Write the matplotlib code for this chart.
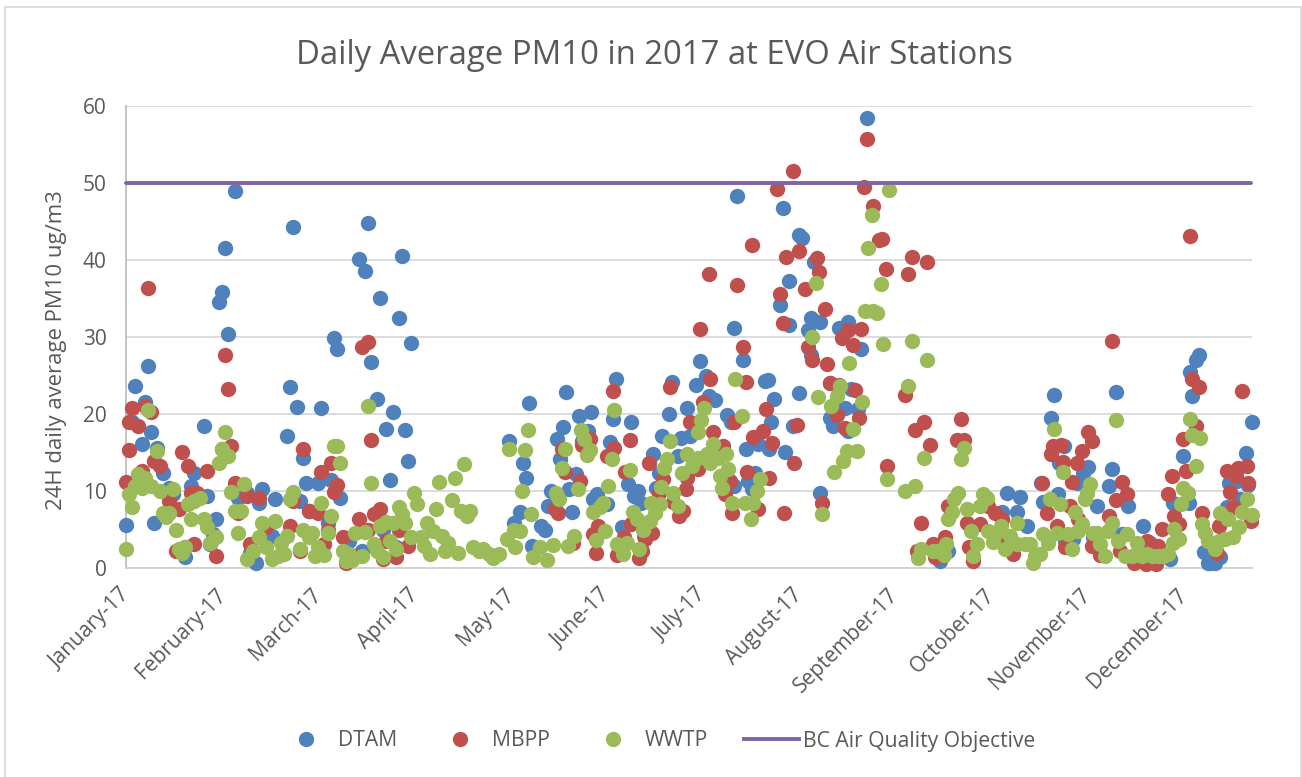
import matplotlib
matplotlib.use("Agg")
import matplotlib.pyplot as plt
from matplotlib.lines import Line2D
from matplotlib.patches import Rectangle
from matplotlib.transforms import ScaledTranslation

plt.rcParams['font.family'] = ['Open Sans', 'DejaVu Sans']

title = "Daily Average PM10 in 2017 at EVO Air Stations"
y_label = "24H daily average PM10 ug/m3"
tick_days = [0, 31, 62, 93, 124, 155, 186, 217, 248, 279, 310, 341]
tick_labels = ["January-17", "February-17", "March-17", "April-17", "May-17", "June-17",
               "July-17", "August-17", "September-17", "October-17", "November-17", "December-17"]
objective = 50

dtam = [(35,48.9),(32,41.6),(31,35.9),(30,34.5),(33,30.4),(7,26.2),(3,23.7),(6,21.5),(2,18.9),(8,17.6),(5,16.1),(10,15.6),(12,12.4),(25,18.5),
(53,23.5),(55,20.9),(63,20.8),(54,44.3),(52,17.2),(57,14.3),(58,11),(62,11),(66,11.4),(69,9.1),(67,29.9),(68,28.4),(75,40.1),(77,38.6),(78,44.8),
(82,35.1),(79,26.7),(81,21.9),(86,20.3),(84,18),(88,32.5),(89,40.5),(92,29.2),(90,17.9),(91,13.9),(85,11.4),(0,5.6),(9,5.9),(14,10.4),(21,10.7),
(22,12.4),(26,9.4),(15,9.6),(29,6.4),(28,4.4),(27,3.1),(19,1.4),(44,10.2),(43,8.5),(48,8.9),(36,9.1),(39,9.8),(56,8.7),(59,7.4),(65,5.9),(47,4.2),
(40,2),(42,0.7),(72,3.5),(76,2.2),(83,5),(87,2.7),
(123.6,16.5),(130,21.4),(128,13.7),(129,11.7),(127,7.3),(125,5.9),(131,2.9),(134,5.5),(135,5),(142,22.9),(141,18.3),(139,16.8),(140,14.2),(145,12.2),
(143,10.3),(137,10),(136,8.1),(144,7.3),(146,19.7),(150,20.2),(149,17.8),(147,16.5),(157,19.3),(158,24.5),(163,18.9),(156,16.3),(152,9.6),(150.5,8.9),
(155,8.3),(162,10.9),(165,10),(164,9.4),(166,8.5),(160,5.3),(167,4.2),(170,14.8),(173,17.1),(175,20),(181,20.8),(179,16.9),(182,17.1),(176,24.1),
(172,12.4),(171,10.4),(178,14.5),(185,26.9),(184,23.8),(187,24.9),(188,22.3),(190,21.8),(194,19.9),(195,18.9),(197,48.3),(199,27),(196,31.2),(200,15.5),
(196,10.7),(200.5,11.3),(202,10.2),(203,12.4),(206,24.3),(207,24.4),(209,22),(208,18.9),(204,16.1),(207.5,15.4),(212.6,15.1),(215,18.5),(217,22.7),
(212,46.8),(217,43.3),(218,42.8),(222,39.8),(214,37.3),(211,34.2),(214,31.5),(221,32.5),(224,32),(220,30.9),(221,27.7),(239,58.5),(230,31.2),(233,31.9),
(237,28.4),(227,24),(234,23.2),(232,20.8),(227,19.5),(228,18.4),(233,17.8),(224,9.8),(236,20.6),
(299.4,22.5),(298.4,19.5),(302.4,15.8),(300.8,13.7),(295.2,11.1),(300.5,9.6),(295.7,8.6),(319.2,22.8),(318,12.8),(317.2,10.7),(323.1,8.1),(313.3,8.1),
(284.3,9.7),(288.4,9.2),(287.3,7.3),(282.7,7.3),(290.5,5.4),(310.4,13.1),(308.8,12.4),(306.7,11.1),(328.2,5.5),(321.2,4.4),(330.3,3.2),(336.8,1.2),
(262.6,0.9),(265.3,2.2),(312,4),(305.6,3.8),(302.9,3.5),(346.2,27.7),(345.2,27),(343.2,25.5),(344,22.4),(363.1,18.9),(361.2,14.9),(341.1,14.6),(355.8,11),
(362,10.8),(358.3,11.3),(337.8,8.5),(343,8.5),(355,7.9),(359.4,8.9),(347.8,2.1),(349.7,0.7),(349.1,0.7),(351.3,0.7),(352.9,1.4)]

mbpp = [(7,36.3),(32,27.6),(33,23.3),(2,20.8),(6,21),(8,20.2),(1,18.9),(4,18.5),(1,15.3),(0,11.2),(5,12.6),(9,13.9),(11,13.2),(18,15.1),(20,13.2),(26,12.6),
(14,8.7),(17,7.7),(23,9.8),(21,9.8),(16,2.2),(19,2.7),(22,3.1),(29,1.6),(31,15.4),(34,15.8),(35,11.1),(36,7.2),(39,9.3),(43,9.1),(40,3.1),(45,5.3),(53,5.5),
(54,8.7),(56,2.2),(57,15.5),(59,7.4),(62,7.2),(63,12.5),(66,13.7),(68,10.8),(67,9.9),(65,5),(64,3.1),(75,6.4),(78,5),(70,4),(71,0.7),(74,1.6),(78,29.4),
(76,28.7),(79,16.6),(80,7),(82,7.6),(84,3.5),(88,5),(91,2.9),(87,1.4),(83,1.2),
(215,51.6),(210,49.2),(238,49.5),(239,55.7),(241,47),(243,42.6),(244,42.7),(245,38.8),(202,41.9),(188,38.2),(197,36.8),(185,31.1),(199,28.7),(217,41.2),
(213,40.4),(223,40.2),(223.4,38.4),(211,35.6),(219,36.2),(212,31.8),(225.5,33.6),(237,31.1),(233,30.9),(231,29.9),(234.4,29),(220,28.7),(221.4,27),(226,26.5),
(188.4,24.5),(200,24.1),(157,23),(175.5,23.5),(227,24),(230,23.8),(235,23.1),(229.2,19.9),(236.4,19.5),(232,18.2),(186,21.5),(182,19),(196,18.9),(206.4,20.7),
(205.6,17.8),(202.4,17),(216.5,18.6),(208.5,16.2),(189.4,17.7),(149.6,16.7),(162.6,16.6),(157.5,15.6),(155,14.5),(147,16),(140.5,15.5),(168.6,13.7),(192.7,15.8),
(215.5,13.6),(141.6,12.5),(161,12.5),(146.4,11.3),(200.4,12.5),(207.5,11.7),(184.6,12.8),(173.3,11.5),(181,11.7),(194.8,11.3),(180.5,10.2),(172,9.8),(193.2,9.6),
(176.5,8.6),(138.4,7.6),(139.4,7.2),(179.8,7.4),(178.5,6.7),(195.6,7.1),(212.3,7.1),(203.7,7.6),(224.4,8.4),(152.3,5.5),(150.7,4.4),(162.9,5.7),(169.8,4.5),
(167.4,3.8),(160.6,4),(144.3,3.3),(151.6,1.9),(158.3,1.7),(165.5,1.3),(166.5,2.2),
(253.4,40.4),(258.3,39.8),(252.4,38.2),(251.3,22.5),(257.4,18.9),(254.5,17.9),(259.4,16),(245.4,13.2),(256.3,5.9),(269.4,19.4),(270.3,16.6),(268.2,16.6),
(318.2,29.5),(343.2,43.1),(360.1,23),(265.3,8),(264.2,4),(260.4,3.1),(255,2.2),(261,1.4),(263.1,1.6),(271.4,5.9),(275.5,5.7),(280.3,7.2),(282.5,6.3),(273.3,0.9),
(272,2.7),(278.2,8),(286.2,1.8),(283,3.3),(295.4,11.1),(297.2,7.1),(299.1,15.8),(301.6,16),(298.4,14.8),(302.2,13.8),(305,11.2),(306.7,13.7),(308.3,15.2),
(311.5,16.5),(310.2,17.6),(304.5,8),(307.2,6.3),(300.2,5.5),(302.9,2.7),(321.2,11.2),(323,9.6),(319.2,8.8),(317.1,6.7),(311.5,2.8),(314.2,1.7),(320.6,2.2),
(334.1,5.1),(337.3,11.9),(336.2,9.6),(342,12.6),(341,16.8),(345.2,18.4),(344,24.6),(346.2,23.5),(338.2,6.8),(339.5,5.7),(347,7.2),(333,2.9),(329.2,3.5),(325,0.7),
(329,0.5),(332.3,0.5),(355,12.6),(361.5,13.2),(358.8,13),(358,12),(362,11),(356,9.9),(363,6.1),(352.4,5.5),(357.2,7.9),(351.8,2)]

wwtp = [(0,2.5),(7,20.5),(10,15.2),(4,12.2),(3,10.7),(1,9.6),(5,10.4),(8,10.7),(11,10),(15,10.3),(6,11.7),(2,7.9),(12,7.2),(14,7.2),(13,6.6),(16,5),(20,8.3),(22,8.7),
(24,9.1),(21,6.4),(25,6.3),(26,5.3),(29,4),(27,3.3),(17,2.5),(19,2.7),(18,2),(32,17.7),(31,15.5),(33,14.5),(30,13.6),(34,9.9),(38,10.9),(35,7.4),(37,7.4),(36,4.6),
(44,5.9),(48,6.1),(43,4),(41,2.2),(39,1.2),(45,2.7),(47,1.2),(49,1.6),(51,1.8),(50,3.3),(52,4.2),(53,8.9),(54,9.9),(57,5),(60,4.6),(59,4),(56,2.5),(61,1.6),(62,2.7),
(64,1.7),(65,4.5),(66,6.7),(63,8.4),(67,15.8),(68,15.8),(69,13.6),(70,2.2),(72,1.8),(71,0.9),(73,1),(76,1.6),(74,4.6),(77,4.7),(78,21),(79,11),(80,3.1),(81,2.2),(83,1.4),
(82,5.5),(84,6),(86,5.9),(85,3.5),(87,2.5),(88,7.9),(89,7),(90,5.9),(92,4),(95,4),(96,2.9),(98,1.8),(97,5.9),(99,4.8),(102,4.2),(104,3.3),(103,2.2),(107,2),(93,9.8),(94,8.3),
(100,7.6),(101,11.2),(105,8.8),(106,11.7),(109,13.5),(108,7.4),(111,7.4),(110,6.7),(112,2.7),(114,2.2),(115,2.5),(117,1.8),(118.5,1.3),(120.4,1.8),
(123.6,15.5),(129.8,17.9),(128.7,15.3),(127.8,10),(130.6,7),(125,5),(127,4.8),(122.8,3.8),(125.5,2.7),(131.4,1.4),(133.5,2.7),(135.7,1),(137.8,3),(140.5,13),(141.6,15.4),
(138.6,9.8),(139.6,8.9),(145.7,10.3),(142.7,2.8),(144.6,4.2),(146.7,17.9),(147.8,16.7),(149.7,15.3),(148.6,14.7),(157.5,20.5),(156.7,14.2),(162.6,12.7),(155.6,10.7),
(153.7,8.5),(152.9,7.9),(150.7,7.3),(154.5,4.8),(151.6,3.7),(158.3,3.1),(161.5,3.3),(160.4,1.8),(165.5,2.5),(163.6,7.3),(164.7,6.3),(166.9,5),(169,6.1),(170.6,7.1),(169.5,8.5),
(172.2,8.3),(172.5,10.5),(175.5,16.5),(174.4,14.1),(173.5,13),(176.5,9.7),(178,8.1),(180.8,14.8),(179.2,12.4),(182.5,13.2),(184.6,14.3),(184.6,17.6),(185.5,19.2),(186.5,20.8),
(187.3,14.8),(188.4,13.7),(189.4,16.1),(191,14.3),(193.5,14.8),(194.3,12.9),(191.6,12),(192.1,10.4),(196.4,24.6),(198.6,19.7),(195.6,8.5),(199.7,8.4),(202.4,8.5),(201.5,6.3),
(203.4,10),(204.5,11.5),(223.3,22.2),(221.4,30),(222.6,37),(240.5,45.9),(239.4,41.6),(243.4,36.9),(238.4,33.4),(241,33.4),(242.4,33.1),(244.3,29.1),(246,49.1),(233.3,26.6),
(230.3,23.6),(229.2,22.4),(227.4,21),(237.3,21.6),(234.4,18),(235.7,15.2),(232.5,15.2),(231.4,13.9),(228.4,12.5),(224.4,7),
(252.4,23.6),(253.4,29.5),(258.3,27),(257.4,14.3),(245.4,11.5),(251.3,10),(254.5,10.7),(270.3,15.6),(269.4,14.1),(256.3,2.5),(255.4,1.3),(260.4,2.2),(262,2.2),(264.5,3.1),(263.7,1.7),
(268.5,9.7),(267.1,8.9),(266.3,7.3),(265.3,6.3),(271.4,7.7),(272.5,4.8),(274.4,3.1),(273.3,1.6),(276.3,9.6),(277.6,9.1),(275.5,8.1),(278.2,4.8),(279.5,3.4),(282.3,5.5),(280.6,4.6),
(287.3,5.8),(285.2,4.2),(283.5,2.5),(287.3,3.1),(290,3.1),(291.6,3.1),(293.2,1.6),(292.7,0.7),(294.8,1.8),(295.9,4.4),(297.5,3.2),(298.1,9),(299.4,18.1),(301.3,8.3),(300.2,4.6),
(302.2,12.5),(304,4.4),(305,2.5),(306.1,7.3),(308.3,5.7),(307.2,4.8),(309.4,8.9),(310.1,9.8),(311,10.9),(312,4.5),(313.3,4.6),(314.2,3.1),(315.8,1.6),(316.6,4.8),(318.2,5.9),
(319.2,19.2),(320.1,3.5),(323,4.4),(322.3,1.6),(324.4,1.6),(326,3.3),(327.6,1.6),(329.2,1.8),(330.9,1.6),(333,1.6),(334.6,1.6),(336.2,1.8),(337.8,3.3),(339.5,3.8),(338.2,5.1),
(340.2,8.3),(341,10.4),(342.7,9.7),(345.2,13.2),(343.2,19.4),(343.8,17.3),(346.5,16.9),(347,5.7),(348.1,4.6),(349.1,3.5),(351.3,2.5),(352.4,3.5),(354.5,3.8),(357.2,4),(352.9,7.1),
(355.6,6.3),(359.1,5.3),(361.5,8.9),(360.1,7.3),(363.1,6.9)]

W, H = 1302, 777
fig = plt.figure(figsize=(W / 100, H / 100), dpi=100, facecolor='white')
ax = fig.add_axes([126 / W, 1 - 568 / H, (1252 - 126) / W, (568 - 106) / H])
grey = '#595959'
fig.add_artist(Rectangle((5 / W, -10 / H), (1300.5 - 5) / W, (H + 10 - 6.5) / H, transform=fig.transFigure,
                         fill=False, edgecolor='#dedede', linewidth=1.5))

series = [("DTAM", dtam, '#4f81bd', 3), ("MBPP", mbpp, '#c0504d', 4), ("WWTP", wwtp, '#9bbb59', 5)]
for name, pts, col, z in series:
    ax.scatter([p[0] for p in pts], [p[1] for p in pts], s=122, color=col, linewidths=0,
               clip_on=False, zorder=z)
ax.plot([0, 363], [objective, objective], color='#8064a2', lw=2.8, zorder=6,
        solid_capstyle='round', clip_on=False)

ax.set_xlim(0, 363.2)
ax.set_ylim(0, 60)
ax.set_yticks(range(0, 61, 10))
ax.set_xticks(tick_days)
ax.set_xticklabels(tick_labels, rotation=45, ha='right', rotation_mode='anchor')
ax.tick_params(axis='both', length=0, colors=grey, labelsize=15)
ax.tick_params(axis='x', pad=9)
ax.tick_params(axis='y', pad=14)
shift = ScaledTranslation(-7 / 100, -4 / 100, fig.dpi_scale_trans)
for lab in ax.get_xticklabels():
    lab.set_transform(lab.get_transform() + shift)
ax.grid(axis='y', color='#d9d9d9', lw=1.3, zorder=0)
ax.set_axisbelow(True)
for s in ['top', 'right']:
    ax.spines[s].set_visible(False)
ax.spines['left'].set_color('#bfbfbf')
ax.spines['bottom'].set_color('#d0d0d0')
ax.spines['left'].set_linewidth(1.3)
ax.spines['bottom'].set_linewidth(1.3)

fig.text(654 / W, 1 - 55 / H, title, ha='center', va='center', fontsize=23.7, color=grey)
fig.text(57 / W, 1 - 350 / H, y_label, ha='center', va='center', rotation=90, fontsize=15.9, color=grey)

handles = [Line2D([], [], ls='', marker='o', ms=11, mfc=c, mec='none') for _, _, c, _ in series]
handles.append(Line2D([], [], color='#8064a2', lw=2.8))
labels = [s[0] for s in series] + ["BC Air Quality Objective"]
leg = fig.legend(handles, labels, ncol=4, loc='center', bbox_to_anchor=(657 / W, 1 - 741 / H),
                 frameon=False, fontsize=15.2, labelcolor=grey, handlelength=2.6, handletextpad=0.2,
                 columnspacing=1.7)
fig.savefig('out.png', dpi=100)
